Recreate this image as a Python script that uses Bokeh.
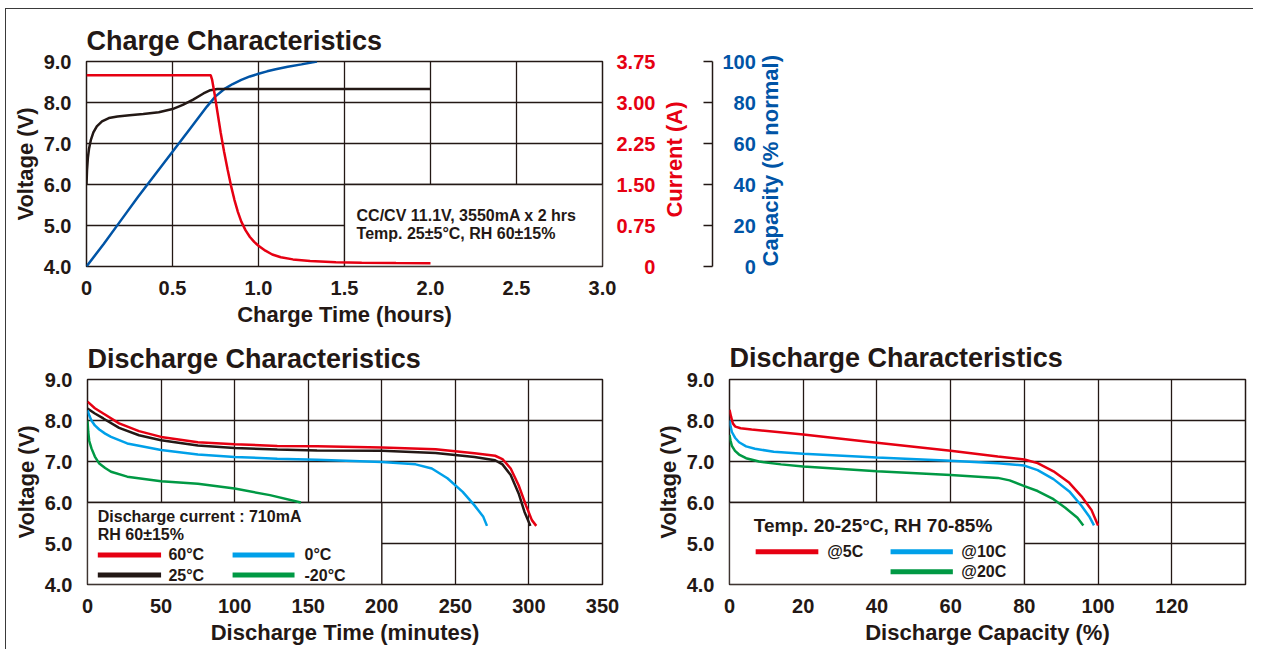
import math
from bokeh.plotting import figure
from bokeh.models import Range1d, LinearAxis, FixedTicker, NumeralTickFormatter
from bokeh.layouts import column, row
from bokeh.embed import file_html
from bokeh.resources import INLINE
from bokeh.core.properties import value

# ---------------- data ----------------
# Charge characteristics (time in hours)
charge_v_t = [0, 0.003, 0.008, 0.015, 0.025, 0.04, 0.06, 0.09, 0.13, 0.18, 0.25, 0.33, 0.42, 0.5, 0.56, 0.62, 0.68, 0.72, 0.76, 2.0]
charge_v = [6.0, 6.35, 6.65, 6.88, 7.08, 7.27, 7.42, 7.54, 7.62, 7.66, 7.69, 7.72, 7.76, 7.84, 7.94, 8.07, 8.22, 8.30, 8.33, 8.33]
charge_i_t = [0, 0.722, 0.73, 0.745, 0.76, 0.78, 0.8, 0.82, 0.84, 0.86, 0.88, 0.9, 0.925, 0.95, 0.975, 1.0, 1.04, 1.08, 1.13, 1.2, 1.3, 1.45, 1.6, 1.8, 2.0]
charge_i = [3.5, 3.5, 3.42, 3.15, 2.85, 2.45, 2.1, 1.78, 1.48, 1.22, 1.0, 0.82, 0.66, 0.54, 0.45, 0.38, 0.29, 0.22, 0.17, 0.13, 0.1, 0.08, 0.07, 0.063, 0.06]
charge_c_t = [0, 0.1, 0.2, 0.3, 0.4, 0.5, 0.6, 0.7, 0.75, 0.8, 0.85, 0.9, 0.95, 1.0, 1.05, 1.1, 1.17, 1.25, 1.34]
charge_c = [0, 11, 22.5, 34, 45, 56, 67, 78, 83, 86.5, 89, 91, 92.7, 94, 95.2, 96.2, 97.4, 98.6, 100]
charge_x_ticks = [0, 0.5, 1.0, 1.5, 2.0, 2.5, 3.0]
voltage_ticks = [4, 5, 6, 7, 8, 9]
current_ticks = [0, 0.75, 1.5, 2.25, 3.0, 3.75]
capacity_ticks = [0, 20, 40, 60, 80, 100]
charge_note = ["CC/CV 11.1V, 3550mA x 2 hrs", "Temp. 25\u00b15\u00b0C, RH 60\u00b115%"]

# Discharge vs time (minutes) at temperatures
t60 = [0, 5, 10.75, 21.5, 35, 50, 75, 100, 129, 156, 200, 236.6, 263, 277, 282, 287.6, 293, 298, 302, 305]
v60 = [8.46, 8.3, 8.17, 7.93, 7.74, 7.6, 7.47, 7.42, 7.38, 7.37, 7.34, 7.3, 7.2, 7.14, 7.06, 6.83, 6.42, 5.93, 5.57, 5.43]
t25 = [0, 5, 10.75, 21.5, 35, 50, 75, 100, 129, 156, 200, 236.6, 263, 277, 282, 287.6, 293, 297, 301]
v25 = [8.29, 8.17, 8.05, 7.82, 7.64, 7.52, 7.39, 7.33, 7.29, 7.27, 7.26, 7.21, 7.11, 7.03, 6.93, 6.67, 6.22, 5.77, 5.43]
t0 = [0, 1.2, 2.7, 5, 8, 12, 16, 27, 50, 75, 100, 129, 156, 200, 223, 234, 244.6, 255, 263, 269, 271.5]
v0 = [8.25, 8.12, 8.0, 7.88, 7.78, 7.68, 7.6, 7.44, 7.28, 7.17, 7.11, 7.07, 7.04, 6.99, 6.93, 6.83, 6.59, 6.26, 5.93, 5.65, 5.43]
tm20 = [0, 0.5, 1.2, 2.7, 5, 8, 12, 16, 27, 50, 75, 100, 124, 145]
vm20 = [8.0, 7.72, 7.5, 7.32, 7.12, 6.95, 6.84, 6.75, 6.63, 6.52, 6.46, 6.34, 6.18, 6.0]
time_ticks = [0, 50, 100, 150, 200, 250, 300, 350]
temp_labels = ["60\u00b0C", "25\u00b0C", "0\u00b0C", "-20\u00b0C"]
temp_note = ["Discharge current : 710mA", "RH 60\u00b115%"]

# Discharge vs capacity (%) at rates
c5 = [0, 0.4, 0.9, 1.6, 3, 6, 20, 40, 60, 72.8, 80, 83.6, 87.9, 92.2, 95.5, 98.2, 100]
v5 = [8.26, 8.1, 7.93, 7.85, 7.81, 7.78, 7.66, 7.46, 7.26, 7.12, 7.05, 6.96, 6.76, 6.48, 6.15, 5.82, 5.44]
c10 = [0, 0.3, 0.65, 1.5, 2.6, 4.5, 6.9, 12, 20, 40, 60, 72.8, 80, 83.6, 87.9, 92.2, 95.5, 97.6, 98.9]
v10 = [8.0, 7.85, 7.72, 7.58, 7.47, 7.37, 7.31, 7.24, 7.19, 7.1, 7.02, 6.96, 6.9, 6.79, 6.57, 6.27, 5.92, 5.66, 5.44]
c20 = [0, 0.3, 0.65, 1.5, 2.6, 4.5, 8, 14, 20, 40, 60, 72.8, 76, 80, 83.6, 87.9, 91.1, 94.4, 96]
v20 = [7.65, 7.5, 7.38, 7.26, 7.17, 7.08, 7.0, 6.93, 6.88, 6.76, 6.67, 6.6, 6.54, 6.4, 6.28, 6.08, 5.87, 5.63, 5.44]
cap_ticks = [0, 20, 40, 60, 80, 100, 120]
rate_labels = ["@5C", "@10C", "@20C"]
rate_note = "Temp. 20-25\u00b0C, RH 70-85%"

# ---------------- style ----------------
FONT = "Liberation Sans"
INK = "#231815"
RED = "#e60012"
DBLUE = "#0054a6"
CYAN = "#00a0e9"
GREEN = "#009944"
TICK_FS = "20px"
LAB_FS = "22px"


def style_axis(ax, color=INK):
    ax.axis_line_color = None
    ax.major_tick_line_color = None
    ax.minor_tick_line_color = None
    ax.major_label_text_font = FONT
    ax.major_label_text_font_style = "bold"
    ax.major_label_text_font_size = TICK_FS
    ax.major_label_text_color = color
    ax.axis_label_text_font = FONT
    ax.axis_label_text_font_style = "bold"
    ax.axis_label_text_font_size = LAB_FS
    ax.axis_label_text_color = color


def make_fig(width, height, xr, yr, mbl, mbt, mbr, mbb, title, standoff, xgrid, ygrid, xlabel):
    p = figure(width=width, height=height, x_range=xr, y_range=yr,
               output_backend="svg", toolbar_location=None,
               min_border_left=mbl, min_border_top=mbt,
               min_border_right=mbr, min_border_bottom=mbb)
    p.title.text = title
    p.title.text_font = FONT
    p.title.text_font_size = "27px"
    p.title.text_font_style = "bold"
    p.title.text_color = INK
    p.title.standoff = standoff
    p.outline_line_color = INK
    p.outline_line_width = 1.5
    p.xgrid.ticker = FixedTicker(ticks=xgrid)
    p.ygrid.ticker = FixedTicker(ticks=ygrid)
    for g in (p.xgrid, p.ygrid):
        g.grid_line_color = INK
        g.grid_line_width = 1.3
    for ax in p.axis:
        style_axis(ax)
    p.yaxis.ticker = FixedTicker(ticks=voltage_ticks)
    p.yaxis.formatter = NumeralTickFormatter(format="0.0")
    p.yaxis.axis_label = "Voltage (V)"
    p.yaxis.major_label_standoff = 9
    p.yaxis.axis_label_standoff = 3
    p.xaxis.axis_label = xlabel
    p.xaxis.major_label_standoff = 8
    p.xaxis.axis_label_standoff = 4
    return p


def add_text(p, xs, ys, texts, size, color=INK):
    p.text(x=xs, y=ys, text=texts, text_font=value(FONT), text_font_style="bold",
           text_font_size=value(size), text_color=color,
           text_baseline="middle", text_align="left")


def rotate_label(ax, lead):
    # read the right-hand axis title from bottom to top, like the left one
    try:
        ax.axis_label_orientation = math.pi / 2
        ax.axis_label_align = "start"
        ax.axis_label = "\u2007" * lead + ax.axis_label
    except Exception:
        pass


# ---------------- chart 1: charge ----------------
p1 = make_fig(802, 320, Range1d(0, 3.0), Range1d(4, 9), 80, 52, 206, 63,
              "Charge Characteristics", 11, [0.5, 1.0, 1.5, 2.0, 2.5], [5, 6, 7, 8],
              "Charge Time (hours)")
p1.xaxis.ticker = FixedTicker(ticks=charge_x_ticks)
p1.xaxis.formatter = NumeralTickFormatter(format="0.0")
p1.xaxis.major_label_overrides = {0: "0"}
p1.extra_y_ranges = {"cur": Range1d(0, 3.75), "cap": Range1d(0, 100)}

ax_cur = LinearAxis(y_range_name="cur", axis_label="Current (A)")
style_axis(ax_cur, RED)
ax_cur.ticker = FixedTicker(ticks=current_ticks)
ax_cur.formatter = NumeralTickFormatter(format="0.00")
ax_cur.major_label_overrides = {0: "\u2007\u2008\u20070"}
ax_cur.major_label_standoff = 8
ax_cur.axis_label_standoff = 16
rotate_label(ax_cur, 4)
p1.add_layout(ax_cur, "right")

ax_gap = LinearAxis(y_range_name="cur", ticker=FixedTicker(ticks=[]), axis_label="\u2007")
style_axis(ax_gap)
ax_gap.axis_label_text_font_size = "2px"
ax_gap.axis_label_standoff = 5
p1.add_layout(ax_gap, "right")

ax_cap = LinearAxis(y_range_name="cap", axis_label="Capacity (% normal)")
style_axis(ax_cap, DBLUE)
ax_cap.axis_line_color = INK
ax_cap.axis_line_width = 1.5
ax_cap.major_tick_line_color = INK
ax_cap.major_tick_line_width = 1.5
ax_cap.major_tick_in = 9
ax_cap.major_tick_out = 0
ax_cap.ticker = FixedTicker(ticks=capacity_ticks)
ax_cap.major_label_overrides = {0: "\u2007\u20070", 20: "\u200720", 40: "\u200740",
                                60: "\u200760", 80: "\u200780"}
ax_cap.major_label_standoff = 10
ax_cap.axis_label_standoff = 12
rotate_label(ax_cap, 0)
p1.add_layout(ax_cap, "right")

p1.quad(left=[1.5], right=[3.0], bottom=[4], top=[6], fill_color="white",
        line_color=INK, line_width=1.3)
p1.line(charge_c_t, charge_c, y_range_name="cap", color=DBLUE, line_width=2.5)
p1.line(charge_v_t, charge_v, color=INK, line_width=2.5)
p1.line(charge_i_t, charge_i, y_range_name="cur", color=RED, line_width=2.5)
add_text(p1, [1.57, 1.57], [5.24, 4.81], charge_note, "16px")

# ---------------- chart 2: discharge vs time ----------------
p2 = make_fig(617, 320, Range1d(0, 350), Range1d(4, 9), 81, 50, 21, 65,
              "Discharge Characteristics", 11, [50, 100, 150, 200, 250, 300], [5, 6, 7, 8],
              "Discharge Time (minutes)")
p2.xaxis.ticker = FixedTicker(ticks=time_ticks)
p2.quad(left=[0], right=[200], bottom=[4], top=[6], fill_color="white",
        line_color=INK, line_width=1.3)
temp_colors = [RED, INK, CYAN, GREEN]
for xs, ys, c in zip([t60, t25, t0, tm20], [v60, v25, v0, vm20], temp_colors):
    p2.line(xs, ys, color=c, line_width=2.5)
add_text(p2, [7, 7], [5.65, 5.22], temp_note, "16px")
p2.segment(x0=[7, 7, 98.6, 98.6], y0=[4.72, 4.23, 4.72, 4.23],
           x1=[50, 50, 140.7, 140.7], y1=[4.72, 4.23, 4.72, 4.23],
           color=temp_colors, line_width=5)
add_text(p2, [55, 55, 147.5, 147.5], [4.72, 4.23, 4.72, 4.23], temp_labels, "16px")

# ---------------- chart 3: discharge vs capacity ----------------
p3 = make_fig(630, 320, Range1d(0, 140), Range1d(4, 9), 106, 50, 8, 65,
              "Discharge Characteristics", 14, [20, 40, 60, 80, 100, 120], [5, 6, 7, 8],
              "Discharge Capacity (%)")
p3.xaxis.ticker = FixedTicker(ticks=cap_ticks)
p3.quad(left=[0], right=[80], bottom=[4], top=[6], fill_color="white",
        line_color=INK, line_width=1.3)
rate_colors = [RED, CYAN, GREEN]
for xs, ys, c in zip([c5, c10, c20], [v5, v10, v20], rate_colors):
    p3.line(xs, ys, color=c, line_width=2.5)
add_text(p3, [6.6], [5.44], [rate_note], "19px")
p3.segment(x0=[7.1, 43.7, 43.7], y0=[4.8, 4.8, 4.31],
           x1=[24.1, 60.6, 60.6], y1=[4.8, 4.8, 4.31],
           color=rate_colors, line_width=5)
add_text(p3, [26.5, 62.9, 62.9], [4.8, 4.8, 4.31], rate_labels, "16px")

layout = column(p1, row(p2, p3),
                styles={"margin-left": "5px", "margin-top": "8px",
                        "border-left": "1px solid #3a3a3a", "border-top": "1px solid #3a3a3a"})
open("out.html", "w").write(file_html(layout, INLINE))
